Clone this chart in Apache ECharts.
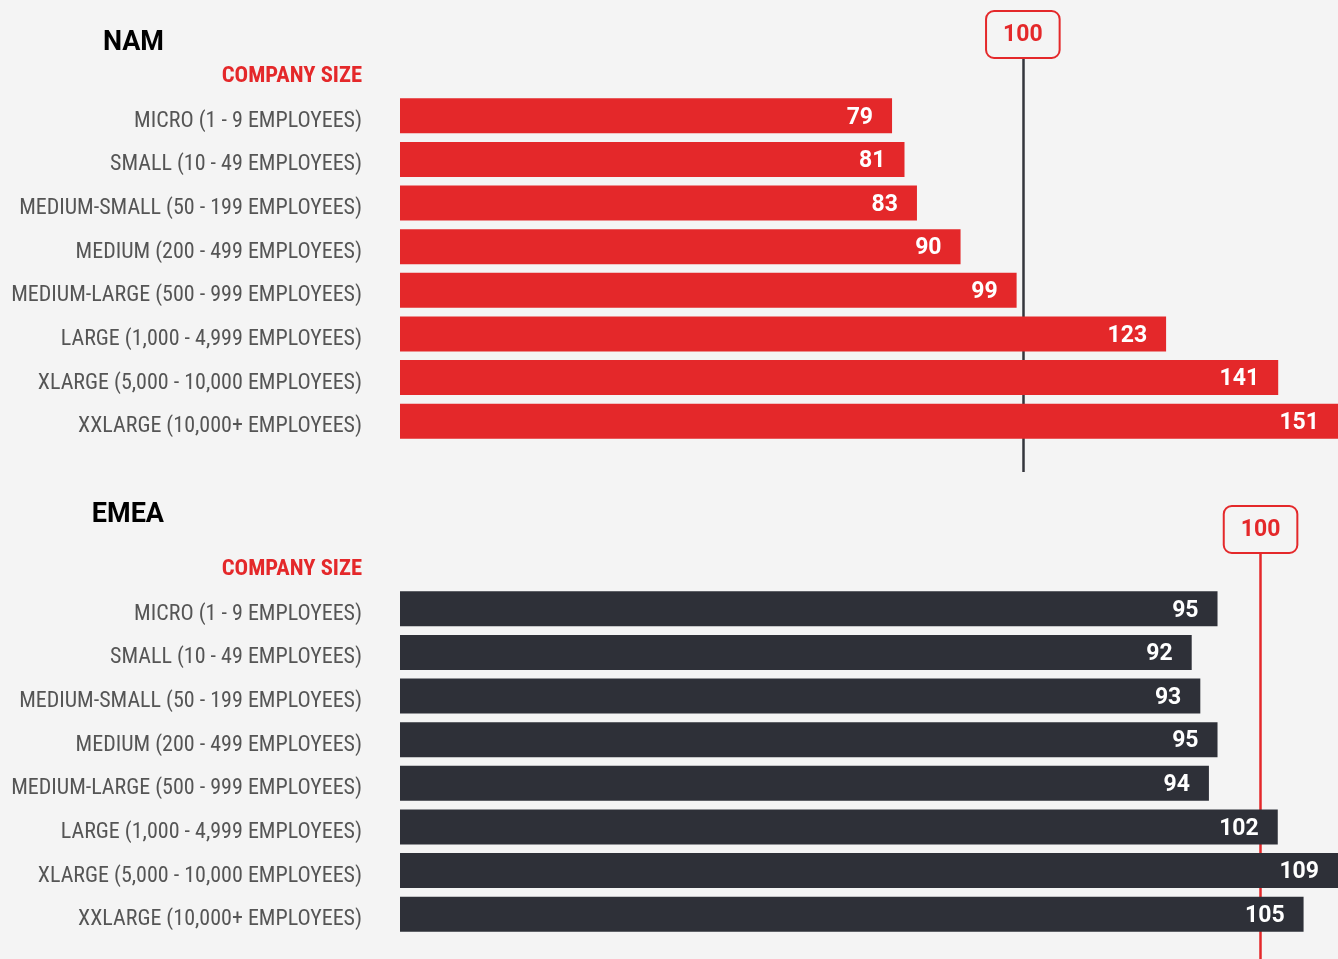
<!DOCTYPE html>
<html>
<head>
<meta charset="utf-8">
<script src="https://cdn.jsdelivr.net/npm/echarts@6/dist/echarts.min.js"></script>
<style>
html,body{margin:0;padding:0;background:#f4f4f4;}
#chart{width:1338px;height:959px;}
</style>
</head>
<body>
<div id="chart"></div>
<script>
const categories = [
  'MICRO (1 - 9 EMPLOYEES)',
  'SMALL (10 - 49 EMPLOYEES)',
  'MEDIUM-SMALL (50 - 199 EMPLOYEES)',
  'MEDIUM (200 - 499 EMPLOYEES)',
  'MEDIUM-LARGE (500 - 999 EMPLOYEES)',
  'LARGE (1,000 - 4,999 EMPLOYEES)',
  'XLARGE (5,000 - 10,000 EMPLOYEES)',
  'XXLARGE (10,000+ EMPLOYEES)'
];
const namValues = [79, 81, 83, 90, 99, 123, 141, 151];
const emeaValues = [95, 92, 93, 95, 94, 102, 109, 105];
const benchmark = 100;
const panelTitles = ['NAM', 'EMEA'];
const axisTitle = 'COMPANY SIZE';

const RED = '#e4282a';
const DARK = '#2e3038';
const labelFont = "'Roboto Condensed', 'Liberation Sans Narrow', Roboto, sans-serif";

const chart = echarts.init(document.getElementById('chart'));

function catAxis(gridIndex) {
  return {
    type: 'category', gridIndex, data: categories, inverse: true,
    axisLine: {show: false}, axisTick: {show: false}, splitLine: {show: false},
    axisLabel: {color: '#555', fontSize: 22, fontFamily: labelFont, margin: 38,
      verticalAlign: 'top', lineHeight: 11}
  };
}
function valAxis(gridIndex, max) {
  return {type: 'value', gridIndex, min: 0, max, show: false, splitLine: {show: false}};
}
function markBox(lineColor, y0, y1) {
  return {
    silent: true, symbol: ['none', 'none'], z: 1,
    lineStyle: {color: lineColor, width: 2.5, type: 'solid'},
    label: {
      show: true, position: 'end', distance: 0, formatter: () => String(benchmark),
      color: RED, fontSize: 23, fontWeight: 'bold', fontFamily: 'Roboto, sans-serif',
      backgroundColor: '#f4f4f4', borderColor: RED, borderWidth: 2, borderRadius: 7,
      padding: [12, 16, 10, 16]
    },
    emphasis: {disabled: true},
    data: [[{xAxis: benchmark, y: y0}, {xAxis: benchmark, y: y1}]]
  };
}
function valueLabel() {
  return {
    show: true, position: 'insideRight', distance: 19, color: '#fff',
    fontSize: 23, fontWeight: 'bold', fontFamily: 'Roboto, sans-serif',
    offset: [0, 2]
  };
}
const titleStyle = {fontSize: 27, fontWeight: 'bold', color: '#000', fontFamily: 'Roboto, sans-serif'};
const subStyle = {fontSize: 22.6, fontWeight: 'bold', color: RED, fontFamily: labelFont};

chart.setOption({
  backgroundColor: '#f4f4f4',
  animation: false,
  title: [
    {text: panelTitles[0], right: 1174, top: 30, padding: 0, textStyle: titleStyle},
    {text: axisTitle, right: 976, top: 65, padding: 0, textStyle: subStyle},
    {text: panelTitles[1], right: 1174, top: 502, padding: 0, textStyle: titleStyle},
    {text: axisTitle, right: 976, top: 558, padding: 0, textStyle: subStyle}
  ],
  grid: [
    {left: 400, right: 0, top: 94, height: 349},
    {left: 400, right: 0, top: 587, height: 349}
  ],
  xAxis: [valAxis(0, 150.6), valAxis(1, 109)],
  yAxis: [catAxis(0), catAxis(1)],
  series: [
    {
      type: 'bar', xAxisIndex: 0, yAxisIndex: 0, data: namValues, barWidth: 35,
      itemStyle: {color: RED}, label: valueLabel(), z: 2,
      markLine: markBox('#34363c', 472, 57)
    },
    {
      type: 'bar', xAxisIndex: 1, yAxisIndex: 1, data: emeaValues, barWidth: 35,
      itemStyle: {color: DARK}, label: valueLabel(), z: 2,
      markLine: markBox(RED, 959, 552)
    }
  ]
});
</script>
</body>
</html>
